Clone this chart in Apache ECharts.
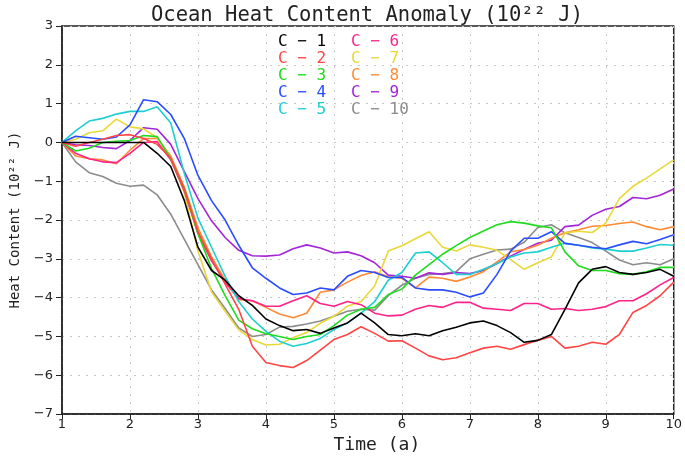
<!DOCTYPE html>
<html>
<head>
<meta charset="utf-8">
<script src="https://cdn.jsdelivr.net/npm/echarts@6/dist/echarts.min.js"></script>
<style>
  html, body { margin: 0; padding: 0; background: #fff; }
  #chart { width: 685px; height: 459px; }
</style>
</head>
<body>
<div id="chart"></div>
<script>
// time axis (a), step 0.2
var years = [1.0, 1.2, 1.4, 1.6, 1.8, 2.0, 2.2, 2.4, 2.6, 2.8, 3.0, 3.2, 3.4, 3.6, 3.8, 4.0,
  4.2, 4.4, 4.6, 4.8, 5.0, 5.2, 5.4, 5.6, 5.8, 6.0, 6.2, 6.4, 6.6, 6.8, 7.0, 7.2, 7.4, 7.6,
  7.8, 8.0, 8.2, 8.4, 8.6, 8.8, 9.0, 9.2, 9.4, 9.6, 9.8, 10.0];

var c1 = [0, 0, 0, 0, 0, 0, 0, -0.28, -0.62, -1.5, -2.7, -3.3, -3.55, -3.95, -4.2, -4.55,
  -4.72, -4.85, -4.82, -4.92, -4.78, -4.65, -4.4, -4.65, -4.95, -4.98, -4.93, -4.98, -4.85, -4.76,
  -4.65, -4.6, -4.72, -4.9, -5.15, -5.1, -4.95, -4.3, -3.62, -3.27, -3.2, -3.35, -3.4, -3.35, -3.27, -3.45];
var c2 = [0, -0.1, 0, 0.08, 0.18, 0.2, 0.1, -0.05, -0.4, -1.2, -2.3, -3.0, -3.65, -4.3, -5.25, -5.67,
  -5.75, -5.8, -5.62, -5.35, -5.08, -4.95, -4.75, -4.92, -5.12, -5.11, -5.3, -5.5, -5.6, -5.55,
  -5.42, -5.3, -5.25, -5.33, -5.21, -5.1, -5.0, -5.3, -5.25, -5.15, -5.2, -4.95, -4.38, -4.2, -3.95, -3.6];
var c3 = [0, -0.22, -0.15, 0, 0.03, 0.05, 0.18, 0.15, -0.42, -1.2, -2.35, -3.25, -3.95, -4.58, -4.8, -4.93,
  -5.0, -5.08, -5.0, -4.95, -4.72, -4.45, -4.3, -4.25, -3.92, -3.78, -3.42, -3.15, -2.88, -2.66,
  -2.45, -2.28, -2.12, -2.04, -2.08, -2.15, -2.2, -2.82, -3.18, -3.3, -3.3, -3.38, -3.4, -3.33, -3.22, -3.22];
var c4 = [0, 0.16, 0.12, 0.08, 0.14, 0.45, 1.1, 1.05, 0.72, 0.1, -0.85, -1.5, -2.0, -2.65, -3.23, -3.5,
  -3.75, -3.92, -3.88, -3.75, -3.8, -3.45, -3.3, -3.35, -3.48, -3.48, -3.75, -3.8, -3.8, -3.86,
  -3.98, -3.88, -3.4, -2.8, -2.47, -2.47, -2.3, -2.6, -2.65, -2.7, -2.74, -2.64, -2.55, -2.61, -2.5, -2.38];
var c5 = [0, 0.3, 0.55, 0.62, 0.73, 0.8, 0.8, 0.92, 0.5, -0.8, -1.95, -2.7, -3.45, -4.1, -4.55, -4.87,
  -5.12, -5.25, -5.18, -5.05, -4.82, -4.65, -4.4, -4.1, -3.55, -3.35, -2.85, -2.82, -3.1, -3.4,
  -3.4, -3.27, -3.12, -2.95, -2.85, -2.82, -2.7, -2.6, -2.65, -2.72, -2.75, -2.8, -2.8, -2.72, -2.63, -2.65];
var c6 = [0, -0.28, -0.42, -0.5, -0.52, -0.28, 0.0, 0.02, -0.45, -1.25, -2.35, -3.05, -3.6, -4.02, -4.08, -4.22,
  -4.22, -4.08, -3.95, -4.15, -4.22, -4.1, -4.18, -4.4, -4.47, -4.45, -4.3, -4.2, -4.25, -4.12,
  -4.12, -4.27, -4.3, -4.33, -4.15, -4.15, -4.3, -4.28, -4.33, -4.3, -4.23, -4.08, -4.08, -3.9, -3.67, -3.48];
var c7 = [0, 0.08, 0.25, 0.3, 0.6, 0.4, 0.35, 0.12, -0.4, -1.3, -2.8, -3.85, -4.35, -4.83, -5.08, -5.22,
  -5.2, -5.03, -4.9, -4.66, -4.48, -4.22, -4.1, -3.7, -2.8, -2.66, -2.48, -2.3, -2.7, -2.8,
  -2.64, -2.7, -2.78, -3.02, -3.27, -3.1, -2.95, -2.33, -2.29, -2.32, -2.08, -1.45, -1.13, -0.92, -0.68, -0.45];
var c8 = [0, -0.35, -0.42, -0.45, -0.55, -0.2, 0.1, 0.1, -0.35, -1.15, -2.2, -2.95, -3.55, -4.05, -4.08, -4.25,
  -4.42, -4.52, -4.4, -3.86, -3.8, -3.6, -3.43, -3.33, -3.46, -3.5, -3.75, -3.47, -3.5, -3.58,
  -3.47, -3.33, -3.08, -2.82, -2.76, -2.65, -2.47, -2.33, -2.25, -2.16, -2.14, -2.09, -2.05, -2.17, -2.25, -2.17];
var c9 = [0, -0.06, -0.08, -0.13, -0.16, 0.05, 0.38, 0.34, -0.05, -0.75, -1.45, -2.02, -2.45, -2.78, -2.92, -2.93,
  -2.9, -2.74, -2.64, -2.72, -2.85, -2.82, -2.92, -3.1, -3.42, -3.45, -3.5, -3.36, -3.4, -3.35,
  -3.38, -3.3, -3.12, -2.93, -2.76, -2.6, -2.52, -2.17, -2.13, -1.88, -1.72, -1.65, -1.42, -1.45, -1.36, -1.2];
var c10 = [0, -0.5, -0.78, -0.88, -1.05, -1.13, -1.1, -1.35, -1.85, -2.5, -3.15, -3.8, -4.28, -4.78, -5.0, -4.95,
  -4.76, -4.74, -4.68, -4.6, -4.48, -4.35, -4.3, -4.32, -3.95, -3.68, -3.5, -3.4, -3.38, -3.33,
  -3.0, -2.88, -2.77, -2.75, -2.57, -2.19, -2.12, -2.33, -2.45, -2.58, -2.8, -3.03, -3.15, -3.1, -3.15, -3.0];

var names = ['C-1', 'C-2', 'C-3', 'C-4', 'C-5', 'C-6', 'C-7', 'C-8', 'C-9', 'C-10'];
var colors = ['#000000', '#ff4545', '#1edc1e', '#2a4dff', '#1ecfd0', '#ff2288', '#e9d838', '#ff8a33', '#a424d8', '#8c8c8c'];
var allData = [c1, c2, c3, c4, c5, c6, c7, c8, c9, c10];

var font = 'DejaVu Sans Mono';
var myChart = echarts.init(document.getElementById('chart'));

var series = names.map(function (n, i) {
  return {
    name: n,
    type: 'line',
    showSymbol: false,
    lineStyle: { width: 1.6, color: colors[i] },
    itemStyle: { color: colors[i] },
    data: years.map(function (x, k) { return [x, allData[i][k]]; }),
    z: 10 - i
  };
});

function legendOf(list, left) {
  return {
    orient: 'vertical',
    left: left,
    top: 28,
    itemGap: 0,
    itemWidth: 0,
    itemHeight: 0,
    icon: 'none',
    selectedMode: false,
    data: list.map(function (n) {
      return { name: n, textStyle: { color: colors[names.indexOf(n)] } };
    }),
    formatter: function (n) { return n.replace('-', ' − '); },
    textStyle: { fontSize: 16, fontFamily: font, lineHeight: 17, padding: 0 }
  };
}

var option = {
  backgroundColor: '#fff',
  animation: false,
  title: {
    text: 'Ocean Heat Content Anomaly (10²² J)',
    left: 146,
    top: 0,
    textStyle: { fontSize: 20.5, fontWeight: 'normal', color: '#222', fontFamily: font }
  },
  legend: [
    legendOf(['C-1', 'C-2', 'C-3', 'C-4', 'C-5'], 268),
    legendOf(['C-6', 'C-7', 'C-8', 'C-9', 'C-10'], 341)
  ],
  grid: {
    left: 57, right: 6, top: 26, bottom: 36,
    show: true, borderColor: '#222', borderWidth: 1.5
  },
  xAxis: {
    type: 'value',
    min: 1, max: 10, interval: 1,
    name: 'Time (a)',
    nameLocation: 'middle',
    nameGap: 21,
    nameTextStyle: { fontSize: 18, color: '#222', fontFamily: font, padding: [0, 0, 0, 18] },
    axisLine: { onZero: false, lineStyle: { color: '#222', width: 1.5 } },
    axisTick: { show: true, length: 5, lineStyle: { color: '#222' } },
    axisLabel: { color: '#222', fontSize: 13, margin: 4, fontFamily: 'DejaVu Sans' },
    splitLine: { show: true, lineStyle: { type: [2, 6], color: '#c8c8c8' } }
  },
  yAxis: {
    type: 'value',
    min: -7, max: 3, interval: 1,
    name: 'Heat Content (10²² J)',
    nameLocation: 'middle',
    nameGap: 40,
    nameTextStyle: { fontSize: 14, color: '#222', fontFamily: font },
    axisLine: { show: true, onZero: false, lineStyle: { color: '#222', width: 1.5 } },
    axisTick: { show: true, length: 6, lineStyle: { color: '#222' } },
    axisLabel: {
      color: '#222', fontSize: 13, margin: 9, fontFamily: 'DejaVu Sans',
      formatter: function (v) { return v < 0 ? '−' + Math.abs(v) : String(v); }
    },
    splitLine: { show: true, lineStyle: { type: [2, 6], color: '#c8c8c8' } }
  },
  series: series
};

myChart.setOption(option);
</script>
</body>
</html>
